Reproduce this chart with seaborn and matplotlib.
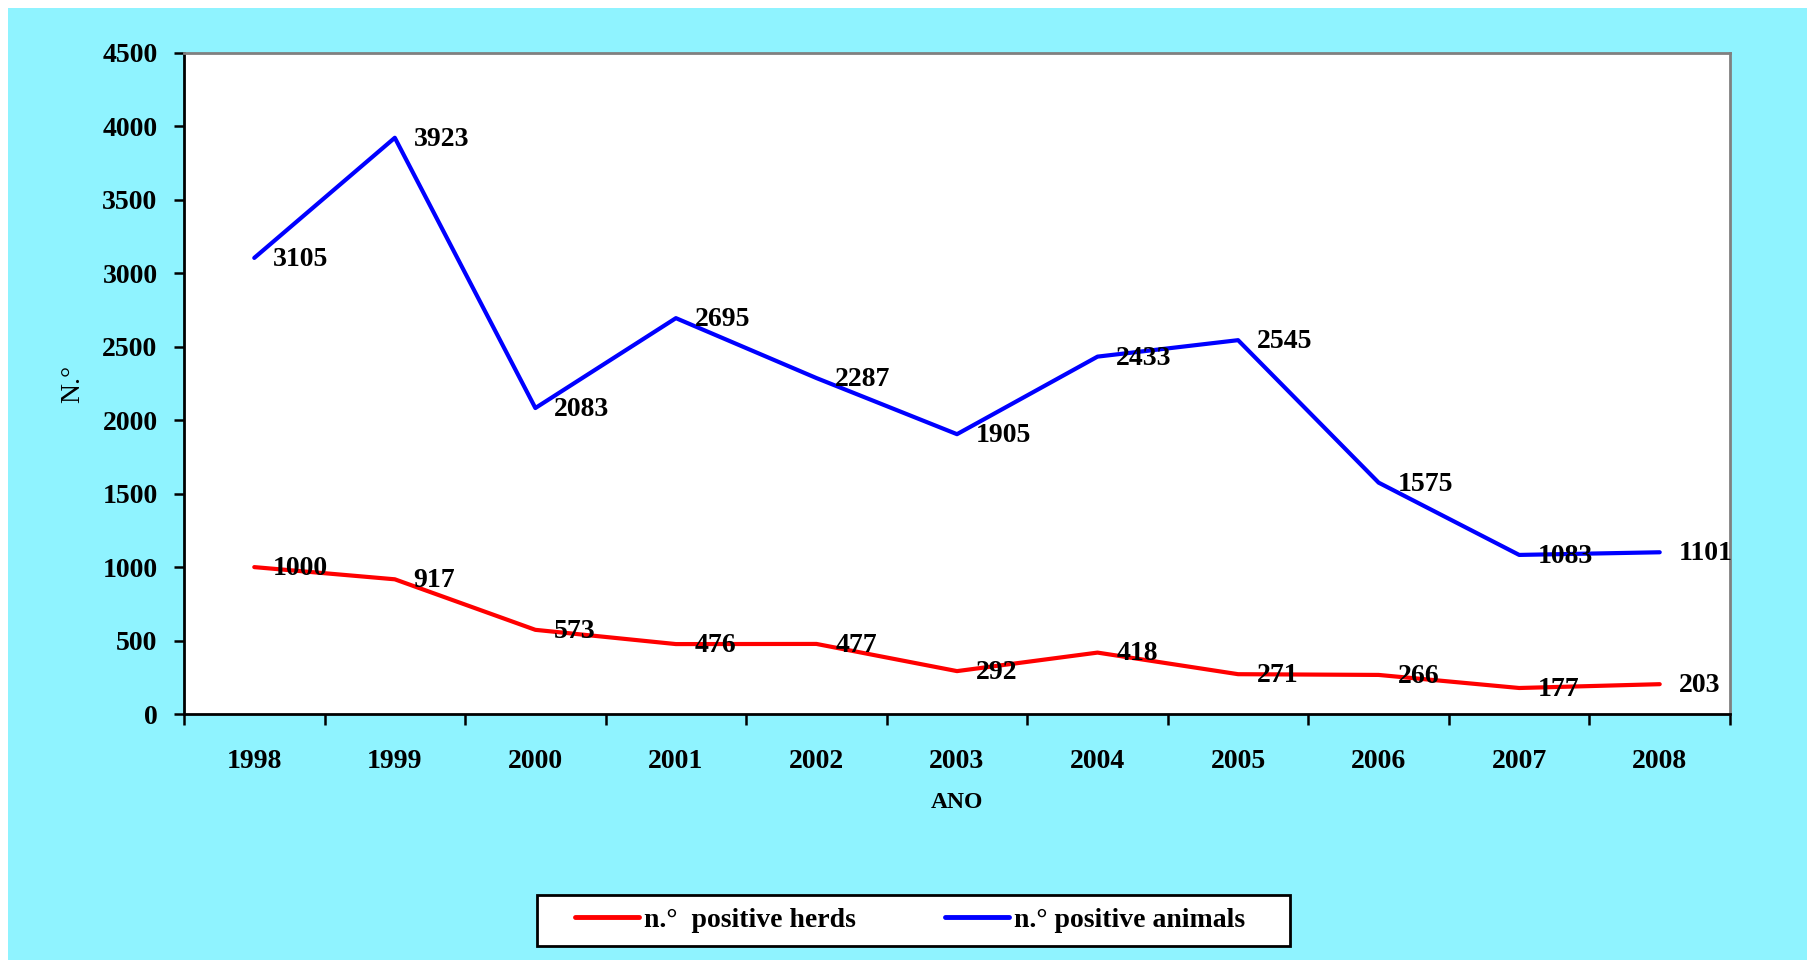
import matplotlib
matplotlib.use("Agg")
import matplotlib.pyplot as plt
import matplotlib.patches as mpatches
from matplotlib.ticker import FixedLocator, MultipleLocator
import seaborn as sns
import pandas as pd

years = ["1998", "1999", "2000", "2001", "2002", "2003", "2004", "2005", "2006", "2007", "2008"]
herds = [1000, 917, 573, 476, 477, 292, 418, 271, 266, 177, 203]
animals = [3105, 3923, 2083, 2695, 2287, 1905, 2433, 2545, 1575, 1083, 1101]
series_names = ["n.°  positive herds", "n.° positive animals"]
series_colors = ["#FF0000", "#0000FF"]

sns.set_style("white")
plt.rcParams["font.family"] = ["Liberation Serif", "DejaVu Serif"]
for k in ("text.color", "axes.labelcolor", "xtick.color", "ytick.color"):
    plt.rcParams[k] = "black"

df = pd.DataFrame({
    "ANO": years * 2,
    "value": herds + animals,
    "series": [series_names[0]] * len(years) + [series_names[1]] * len(years),
})

FS = 20
W, H = 1807, 960
fig = plt.figure(figsize=(W / 100, H / 100), dpi=100, facecolor="white")
bg = mpatches.Rectangle((8 / W, 0), 1 - 8 / W, 1 - 8 / H, transform=fig.transFigure,
                        facecolor="#8FF3FF", edgecolor="none", zorder=-10)
fig.patches.append(bg)

ax = fig.add_axes([184 / W, 1 - 714 / H, (1730 - 184) / W, (714 - 53) / H])
ax.set_facecolor("white")

sns.lineplot(data=df, x="ANO", y="value", hue="series", palette=dict(zip(series_names, series_colors)),
             linewidth=3.0, ax=ax, legend=True, sort=False)

ax.set_xlim(-0.5, len(years) - 0.5)
ax.set_ylim(0, 4500)
ax.yaxis.set_major_locator(MultipleLocator(500))

# data labels
for vals in (herds, animals):
    for i, v in enumerate(vals):
        ax.annotate(str(v), (i, v), xytext=(13.5, -1), textcoords="offset points",
                    ha="left", va="center", fontsize=FS, fontweight="bold", color="black")

# ticks
ax.set_xticks(range(len(years)))
ax.set_xticklabels(years, fontsize=FS, fontweight="bold")
ax.xaxis.set_minor_locator(FixedLocator([i - 0.5 for i in range(len(years) + 1)]))
ax.tick_params(axis="x", which="major", length=0, pad=25)
ax.tick_params(axis="x", which="minor", length=8, width=1.8, direction="out", color="black", bottom=True)
ax.tick_params(axis="y", which="major", length=7, width=1.8, direction="out", color="black", pad=12, left=True)
for lab in ax.get_yticklabels():
    lab.set_fontsize(FS)
    lab.set_fontweight("bold")

for side in ("left", "bottom"):
    ax.spines[side].set_color("black")
    ax.spines[side].set_linewidth(2)
for side in ("top", "right"):
    ax.spines[side].set_visible(True)
    ax.spines[side].set_color("#808080")
    ax.spines[side].set_linewidth(2)

ax.set_xlabel("ANO", fontsize=17, fontweight="bold", labelpad=13)
ax.set_ylabel("N.°", fontsize=FS, fontweight="normal", labelpad=12)

# legend
ax.get_legend().remove()
handles = [plt.Line2D([], [], color=c, linewidth=3.5) for c in series_colors]
box = mpatches.Rectangle((537 / W, 1 - 946 / H), (1290 - 537) / W, (946 - 895) / H,
                         transform=fig.transFigure, facecolor="white", edgecolor="black",
                         linewidth=2, zorder=5)
fig.patches.append(box)
leg = fig.legend(handles, series_names, loc="center", bbox_to_anchor=(910 / W, 1 - 920 / H),
                 ncol=2, frameon=False, handlelength=2.3, handletextpad=0.2, columnspacing=3.2,
                 prop={"size": FS, "weight": "bold"})
leg.set_zorder(6)

fig.savefig("out.png", dpi=100, facecolor="white")
